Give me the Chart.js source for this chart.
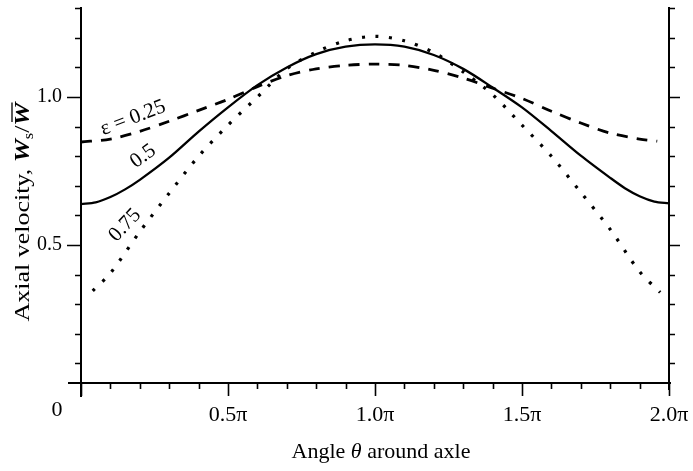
<!DOCTYPE html>
<html>
<head>
<meta charset="utf-8">
<script src="https://cdn.jsdelivr.net/npm/chart.js@4.4.1/dist/chart.umd.min.js"></script>
<style>
  html, body { margin: 0; padding: 0; background: #fff; }
</style>
</head>
<body>
<canvas id="chart" width="693" height="471"></canvas>
<script>
// angle theta in units of pi, axial velocity Ws / W-bar

// eps = 0.25 (dashed)
const thetaEps25 = [0, 0.1, 0.2, 0.3, 0.4, 0.5, 0.6, 0.7, 0.8, 0.9, 1.0, 1.1, 1.2, 1.3, 1.4, 1.5, 1.6, 1.7, 1.8, 1.9, 1.96];
const velEps25 = [0.848, 0.858, 0.884, 0.918, 0.955, 0.992, 1.035, 1.072, 1.095, 1.107, 1.111, 1.107, 1.09, 1.064, 1.03, 0.995, 0.952, 0.912, 0.878, 0.858, 0.851];

// eps = 0.5 (solid)
const thetaEps50 = [0, 0.05, 0.1, 0.15, 0.2, 0.3, 0.4, 0.5, 0.6, 0.7, 0.8, 0.9, 1.0, 1.1, 1.2, 1.3, 1.4, 1.5, 1.6, 1.7, 1.8, 1.85, 1.9, 1.95, 2.0];
const velEps50 = [0.638, 0.644, 0.662, 0.688, 0.72, 0.795, 0.883, 0.965, 1.04, 1.10, 1.145, 1.17, 1.178, 1.17, 1.142, 1.095, 1.032, 0.965, 0.885, 0.802, 0.727, 0.692, 0.665, 0.647, 0.641];

// eps = 0.75 (dotted)
const thetaEps75 = [0.04, 0.1, 0.2, 0.3, 0.4, 0.5, 0.6, 0.7, 0.8, 0.9, 1.0, 1.1, 1.2, 1.3, 1.4, 1.5, 1.6, 1.7, 1.8, 1.9, 1.97];
const velEps75 = [0.345, 0.405, 0.545, 0.675, 0.80, 0.905, 1.0, 1.095, 1.152, 1.19, 1.205, 1.19, 1.15, 1.085, 1.008, 0.905, 0.80, 0.678, 0.553, 0.41, 0.34];

const xTicks = [0, 0.1, 0.2, 0.3, 0.4, 0.5, 0.6, 0.7, 0.8, 0.9, 1.0, 1.1, 1.2, 1.3, 1.4, 1.5, 1.6, 1.7, 1.8, 1.9, 2.0];
const xLabels = { 0.5: "0.5\u03c0", 1: "1.0\u03c0", 1.5: "1.5\u03c0", 2: "2.0\u03c0" };
const yTicks = [0.1, 0.2, 0.3, 0.4, 0.5, 0.6, 0.7, 0.8, 0.9, 1.0, 1.1, 1.2, 1.3];
const yLabels = { 0.5: "0.5", 1: "1.0" };

const SERIF = "'Liberation Serif', 'DejaVu Serif', serif";

function pts(xs, ys) {
  return xs.map((x, i) => ({ x: x, y: ys[i] }));
}

function isMajor(v, step) {
  return Math.abs(v / step - Math.round(v / step)) < 1e-6;
}

// keep the plot box fixed: no extra room for overhanging tick labels
function noPad(s) {
  s.paddingLeft = 0; s.paddingRight = 0; s.paddingTop = 0; s.paddingBottom = 0;
}

// axes, tick marks, titles and curve labels
const decor = {
  id: "decor",
  afterDraw(c) {
    const ctx = c.ctx;
    const x = c.scales.x, y = c.scales.y;
    const L = x.getPixelForValue(0), R = x.getPixelForValue(2);
    const B = y.getPixelForValue(y.min), T = y.getPixelForValue(y.max);

    ctx.save();
    ctx.strokeStyle = "#000";
    ctx.lineWidth = 2;
    ctx.beginPath();
    ctx.moveTo(L, T); ctx.lineTo(L, B + 14);
    ctx.moveTo(R, T); ctx.lineTo(R, B + 7);
    ctx.moveTo(L - 13, B); ctx.lineTo(R + 2, B);
    ctx.stroke();

    ctx.lineWidth = 1.6;
    ctx.beginPath();
    yTicks.forEach(v => {
      const py = Math.round(y.getPixelForValue(v)) + 0.5;
      const len = isMajor(v, 0.5) ? 14 : 6;
      ctx.moveTo(L - len, py); ctx.lineTo(L, py);
      ctx.moveTo(R, py); ctx.lineTo(R + (isMajor(v, 0.5) ? 11 : 6), py);
    });
    xTicks.forEach(v => {
      const px = Math.round(x.getPixelForValue(v)) + 0.5;
      const len = isMajor(v, 0.5) ? 13 : 6;
      ctx.moveTo(px, B); ctx.lineTo(px, B + len);
    });
    ctx.stroke();

    ctx.fillStyle = "#000";
    ctx.textBaseline = "middle";

    // the lone "0" at the origin
    ctx.font = "22px " + SERIF;
    ctx.textAlign = "center";
    ctx.fillText("0", 57, 410);

    // x title with italic theta
    const xParts = [
      ["Angle ", "22px " + SERIF],
      ["\u03b8", "italic 22px " + SERIF],
      [" around axle", "22px " + SERIF]
    ];
    let w = 0;
    xParts.forEach(p => { ctx.font = p[1]; w += ctx.measureText(p[0]).width; });
    let cx = (L + R) / 2 - w / 2 + 6;
    ctx.textAlign = "left";
    xParts.forEach(p => {
      ctx.font = p[1];
      ctx.fillText(p[0], cx, 452);
      cx += ctx.measureText(p[0]).width;
    });

    // y title: Axial velocity, W_s / W-bar
    ctx.save();
    ctx.translate(23, 212);
    ctx.rotate(-Math.PI / 2);
    ctx.scale(1.18, 1);
    const yParts = [
      ["Axial velocity, ", "22px " + SERIF, 0, false],
      ["W", "italic bold 22px " + SERIF, 0, false],
      ["s", "14px " + SERIF, 6, false],
      ["/", "22px " + SERIF, 0, false],
      ["W", "italic bold 22px " + SERIF, 0, true]
    ];
    w = 0;
    yParts.forEach(p => { ctx.font = p[1]; w += ctx.measureText(p[0]).width; });
    cx = -w / 2;
    yParts.forEach(p => {
      ctx.font = p[1];
      const pw = ctx.measureText(p[0]).width;
      ctx.fillText(p[0], cx, p[2]);
      if (p[3]) {
        ctx.lineWidth = 1.3;
        ctx.beginPath();
        ctx.moveTo(cx + 3, -11); ctx.lineTo(cx + pw, -11);
        ctx.stroke();
      }
      cx += pw;
    });
    ctx.restore();

    // curve labels
    const labels = [
      ["\u03b5 = 0.25", 0.177, 0.929, -21],
      ["0.5", 0.211, 0.80, -36],
      ["0.75", 0.15, 0.567, -47]
    ];
    ctx.font = "21px " + SERIF;
    ctx.textAlign = "center";
    labels.forEach(l => {
      ctx.save();
      ctx.translate(x.getPixelForValue(l[1]), y.getPixelForValue(l[2]));
      ctx.rotate(l[3] * Math.PI / 180);
      ctx.fillText(l[0], 0, 0);
      ctx.restore();
    });
    ctx.restore();
  }
};

const lineBase = {
  borderColor: "#000",
  pointRadius: 0,
  fill: false,
  tension: 0.3
};

new Chart(document.getElementById("chart"), {
  type: "line",
  data: {
    datasets: [
      Object.assign({ label: "0.25", data: pts(thetaEps25, velEps25), borderWidth: 2.8, borderDash: [11, 9] }, lineBase),
      Object.assign({ label: "0.5", data: pts(thetaEps50, velEps50), borderWidth: 2.3 }, lineBase),
      Object.assign({ label: "0.75", data: pts(thetaEps75, velEps75), borderWidth: 3.2, borderDash: [3, 10.5] }, lineBase)
    ]
  },
  options: {
    responsive: false,
    animation: false,
    devicePixelRatio: 1,
    layout: { padding: { top: 7, left: 0, right: 0, bottom: 0 } },
    plugins: { legend: { display: false }, tooltip: { enabled: false } },
    scales: {
      x: {
        type: "linear",
        min: 0,
        max: 2,
        afterBuildTicks: s => { s.ticks = xTicks.map(v => ({ value: v })); },
        afterFit: s => { s.height = 88; noPad(s); },
        grid: { display: false },
        border: { display: false },
        ticks: {
          autoSkip: false,
          maxRotation: 0,
          padding: 11,
          color: "#000",
          font: { family: SERIF, size: 22 },
          callback: v => xLabels[Math.round(v * 10) / 10] || ""
        }
      },
      y: {
        min: 0.034,
        max: 1.304,
        afterBuildTicks: s => { s.ticks = yTicks.map(v => ({ value: v })); },
        afterFit: s => { s.width = 81; noPad(s); },
        grid: { display: false },
        border: { display: false },
        ticks: {
          autoSkip: false,
          padding: 11,
          color: "#000",
          font: { family: SERIF, size: 20 },
          callback: v => yLabels[Math.round(v * 10) / 10] || ""
        }
      },
      y2: {
        position: "right",
        min: 0.034,
        max: 1.304,
        afterFit: s => { s.width = 24; noPad(s); },
        grid: { display: false },
        border: { display: false },
        ticks: { display: false }
      }
    }
  },
  plugins: [decor]
});
</script>
</body>
</html>
